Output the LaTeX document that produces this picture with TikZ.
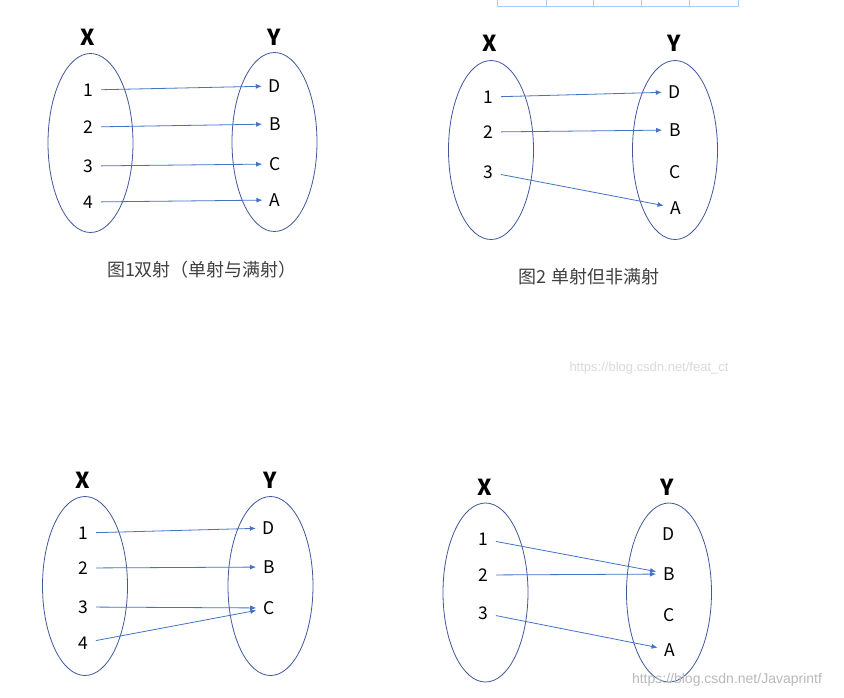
\documentclass[tikz,border=0pt]{standalone}
\usepackage{fontspec}
\setmainfont{Noto Sans CJK SC}
\newfontfamily\wmfont{Liberation Sans}
\usepackage{xcolor}
\usetikzlibrary{arrows.meta, shapes.geometric, positioning}

\definecolor{setline}{HTML}{41599A}
\definecolor{maparrow}{HTML}{4472C4}
\definecolor{captiongray}{HTML}{404040}
\definecolor{tableblue}{HTML}{A9CBF2}
\definecolor{wmgray}{HTML}{DADADA}

\begin{document}
\begin{tikzpicture}[
        x=1pt, y=-1pt,
        setname/.style={font=\fontsize{22}{24}\selectfont\bfseries},
        elem/.style={font=\fontsize{17.5}{20}\selectfont, inner sep=2pt},
        setbox/.style={ellipse, draw=setline, line width=0.8pt, minimum width=85pt, minimum height=179pt, inner sep=0pt},
        arrow/.style={maparrow, line width=0.8pt, -{Latex[length=6pt, width=5pt]}, shorten <=6pt, shorten >=5pt},
        caption/.style={font=\fontsize{18}{20}\selectfont, text=captiongray},
        watermark/.style={font=\wmfont\fontsize{14}{16}\selectfont, text=wmgray}
    ]
        \fill[white] (0,0) rectangle (844,697);
        \useasboundingbox (0,0) rectangle (844,697);

        % table cut off at the top
        \draw[tableblue, line width=0.8pt] (497,-2) rectangle (738,6);
        \draw[tableblue, line width=0.8pt] (546,-2) -- (546,6) (593,-2) -- (593,6) (641,-2) -- (641,6) (689,-2) -- (689,6);

        % figure 1: bijection
        \node (p1x) [setname] at (88,37) {X};
        \node (p1y) [setname] at (274,37) {Y};
        \node (p1sx) [setbox] at (90.5,143) {};
        \node (p1sy) [setbox] at (274.5,142) {};
        \node (p1a) [elem] at (88,90) {1};
        \node (p1b) [elem] at (88,127) {2};
        \node (p1c) [elem] at (88,166) {3};
        \node (p1d) [elem] at (88,202) {4};
        \node (p1D) [elem] at (275,86) {D};
        \node (p1B) [elem] at (275,124) {B};
        \node (p1C) [elem] at (275,164) {C};
        \node (p1A) [elem] at (275,200) {A};
        \node (p1cap) [caption] at (202,270) {图1双射（单射与满射）};

        \draw [arrow] (p1a) -- (p1D);
        \draw [arrow] (p1b) -- (p1B);
        \draw [arrow] (p1c) -- (p1C);
        \draw [arrow] (p1d) -- (p1A);

        % figure 2: injective, not surjective
        \node (p2x) [setname] at (490,43) {X};
        \node (p2y) [setname] at (674,43) {Y};
        \node (p2sx) [setbox] at (491,150) {};
        \node (p2sy) [setbox] at (675,150) {};
        \node (p2a) [elem] at (488,97) {1};
        \node (p2b) [elem] at (488,132) {2};
        \node (p2c) [elem] at (488,172) {3};
        \node (p2D) [elem] at (675,92) {D};
        \node (p2B) [elem] at (675,130) {B};
        \node (p2C) [elem] at (675,172) {C};
        \node (p2A) [elem] at (676,208) {A};
        \node (p2cap) [caption] at (589,277) {图2 单射但非满射};

        \draw [arrow] (p2a) -- (p2D);
        \draw [arrow] (p2b) -- (p2B);
        \draw [arrow] (p2c) -- (p2A);

        % figure 3
        \node (p3x) [setname] at (83,480) {X};
        \node (p3y) [setname] at (270,480) {Y};
        \node (p3sx) [setbox] at (85,586) {};
        \node (p3sy) [setbox] at (270.5,586) {};
        \node (p3a) [elem] at (83,533) {1};
        \node (p3b) [elem] at (83,568) {2};
        \node (p3c) [elem] at (83,607) {3};
        \node (p3d) [elem] at (83,643) {4};
        \node (p3D) [elem] at (269,528) {D};
        \node (p3B) [elem] at (269,567) {B};
        \node (p3C) [elem] at (269,608) {C};

        \draw [arrow] (p3a) -- (p3D);
        \draw [arrow] (p3b) -- (p3B);
        \draw [arrow] (p3c) -- (p3C);
        \draw [arrow] (p3d) -- (p3C);

        % figure 4
        \node (p4x) [setname] at (485,487) {X};
        \node (p4y) [setname] at (667,487) {Y};
        \node (p4sx) [setbox] at (485.5,592.5) {};
        \node (p4sy) [setbox] at (669,592.5) {};
        \node (p4a) [elem] at (483,539) {1};
        \node (p4b) [elem] at (483,575) {2};
        \node (p4c) [elem] at (483,613) {3};
        \node (p4D) [elem] at (669,534) {D};
        \node (p4B) [elem] at (669,574) {B};
        \node (p4C) [elem] at (669,615) {C};
        \node (p4A) [elem] at (670,650) {A};

        \draw [arrow] (p4a) -- (p4B);
        \draw [arrow] (p4b) -- (p4B);
        \draw [arrow] (p4c) -- (p4A);

        % watermarks
        \node (wm1) [watermark, font=\wmfont\fontsize{13}{15}\selectfont] at (649,368) {https://blog.csdn.net/feat\_ct};
        \node (wm2) [watermark, text=wmgray!85!black] at (727,680) {https://blog.csdn.net/Javaprintf};
    \end{tikzpicture}
\end{document}
